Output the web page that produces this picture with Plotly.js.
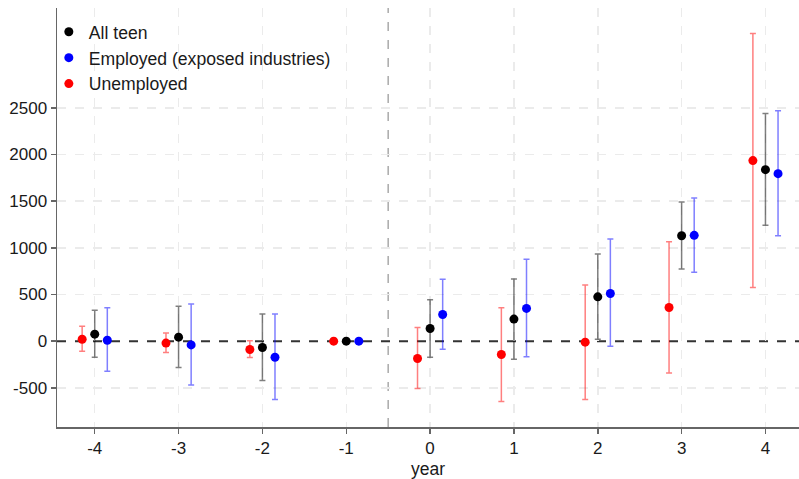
<!DOCTYPE html>
<html>
<head>
<meta charset="utf-8">
<script src="https://cdn.plot.ly/plotly-3.0.1.min.js"></script>
<style>html,body{margin:0;padding:0;background:#fff;}#chart{width:799px;height:479px;}</style>
</head>
<body>
<div id="chart"></div>
<script>
// Event-study years
const years = [-4, -3, -2, -1, 0, 1, 2, 3, 4];

// All teen
const allTeen      = [75, 43, -68, 0, 136, 236, 475, 1130, 1838];
const allTeenHi    = [330, 375, 290, 0, 443, 665, 934, 1491, 2439];
const allTeenLo    = [-172, -282, -422, 0, -172, -193, 21, 773, 1241];

// Employed (exposed industries)
const employed     = [10, -40, -172, 0, 286, 351, 511, 1134, 1795];
const employedHi   = [357, 397, 290, 0, 662, 877, 1094, 1534, 2468];
const employedLo   = [-322, -469, -626, 0, -86, -168, -54, 737, 1130];

// Unemployed
const unemployed   = [20, -21, -89, 0, -186, -143, -11, 361, 1935];
const unemployedHi = [160, 86, 3, 0, 147, 357, 601, 1066, 3297];
const unemployedLo = [-107, -121, -175, 0, -508, -647, -626, -340, 576];

const yTicks = [-500, 0, 500, 1000, 1500, 2000, 2500];
const xTicks = years;

function mk(name, y, hi, lo, color, errColor, rank) {
  return {
    type: 'scatter', mode: 'markers', name: name, x: years, y: y,
    legendrank: rank,
    marker: {color: color, size: 9},
    error_y: {
      type: 'data', symmetric: false,
      array: y.map((v, i) => hi[i] - v),
      arrayminus: y.map((v, i) => v - lo[i]),
      color: errColor, thickness: 1.5, width: 3
    }
  };
}

const traces = [
  mk('Unemployed', unemployed, unemployedHi, unemployedLo, '#ff0000', 'rgba(255,0,0,0.5)', 3),
  mk('All teen', allTeen, allTeenHi, allTeenLo, '#000000', 'rgba(0,0,0,0.5)', 1),
  mk('Employed (exposed industries)', employed, employedHi, employedLo, '#0000ff', 'rgba(0,0,255,0.5)', 2)
];

const font = {family: 'Liberation Sans, Arial, sans-serif', color: '#1a1a1a'};
const gridStyle = {gridcolor: '#ebebeb', gridwidth: 1.5, griddash: 'dash'};

const layout = {
  width: 799, height: 479,
  margin: {l: 57, r: 0, t: 8, b: 52},
  paper_bgcolor: '#fff', plot_bgcolor: '#fff',
  font: Object.assign({size: 17}, font),
  scattermode: 'group', scattergap: 0.55,
  showlegend: true,
  legend: {x: -0.011, y: 0.986, xanchor: 'left', yanchor: 'top', bgcolor: 'rgba(0,0,0,0)',
           font: Object.assign({size: 17.6}, font), tracegroupgap: 0},
  xaxis: Object.assign({
    range: [-4.45, 4.4], tickvals: xTicks, ticktext: xTicks.map(String),
    showgrid: true,
    zeroline: false, showline: true, linecolor: '#666', linewidth: 1.5,
    ticks: 'outside', ticklen: 5, tickcolor: '#666', tickwidth: 1.5,
    tickfont: Object.assign({size: 17}, font),
    title: {text: 'year', font: Object.assign({size: 17.5}, font), standoff: 7}
  }, gridStyle),
  yaxis: {
    range: [-920, 3570], tickvals: yTicks, ticktext: yTicks.map(String),
    showgrid: false,
    minor: Object.assign({tickvals: yTicks.filter(v => v !== 0), showgrid: true, ticks: ''}, gridStyle),
    zeroline: false, showline: true, linecolor: '#666', linewidth: 1.5,
    ticks: 'outside', ticklen: 5, tickcolor: '#666', tickwidth: 1.5,
    tickfont: Object.assign({size: 17}, font)
  },
  shapes: [
    {type: 'line', xref: 'x', yref: 'paper', x0: -0.5, x1: -0.5, y0: 0, y1: 1,
     line: {color: '#aaaaaa', width: 1.5, dash: 'dash'}, layer: 'below'},
    {type: 'line', xref: 'paper', yref: 'y', x0: 0, x1: 1, y0: 0, y1: 0,
     line: {color: '#333333', width: 2, dash: 'dash'}, layer: 'below'}
  ]
};

Plotly.newPlot('chart', traces, layout, {displayModeBar: false, staticPlot: true});
</script>
</body>
</html>
